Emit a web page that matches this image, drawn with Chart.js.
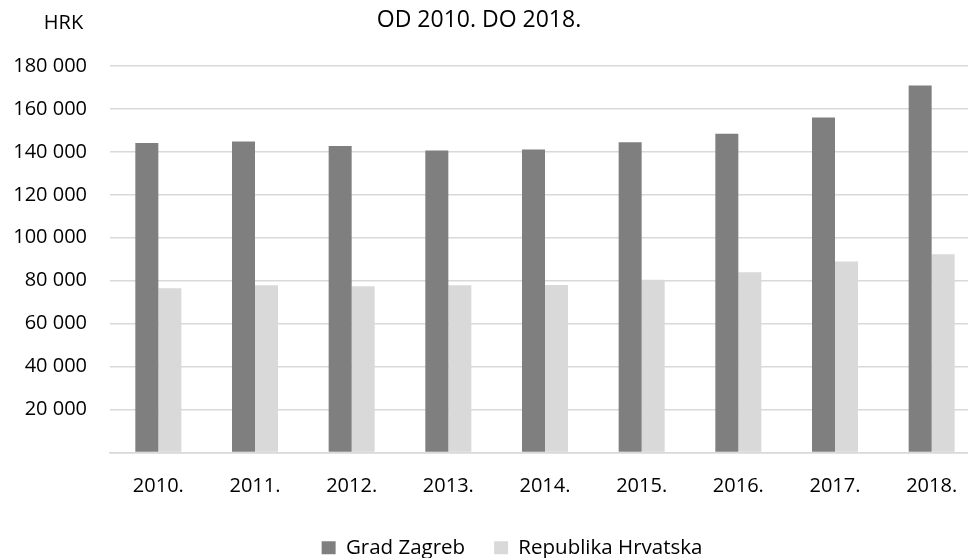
<!DOCTYPE html>
<html>
<head>
<meta charset="utf-8">
<script src="https://cdn.jsdelivr.net/npm/chart.js@4/dist/chart.umd.min.js"></script>
<style>
  html, body { margin: 0; padding: 0; background: #fff; overflow: hidden; }
  #wrap { width: 980px; height: 558px; }
</style>
</head>
<body>
<div id="wrap"><canvas id="chart" width="980" height="558"></canvas></div>
<script>
// podaci (HRK), ocitano sa slike
const godine = ['2010.', '2011.', '2012.', '2013.', '2014.', '2015.', '2016.', '2017.', '2018.'];
const gradZagreb = [144100, 144800, 142700, 140700, 141100, 144500, 148500, 156000, 170900];
const republikaHrvatska = [76500, 77900, 77400, 77900, 78000, 80500, 83900, 88900, 92300];
const naslov = 'OD 2010. DO 2018.';
const jedinica = 'HRK';

const FONT = '"Open Sans", "Noto Sans", sans-serif';

// tisuce odvojene razmakom, nula se ne prikazuje
function formatBroj(v) {
  if (v === 0) return '';
  return String(v).replace(/\B(?=(\d{3})+(?!\d))/g, ' ');
}

// pomak legende i naslova (Excel ih centrira malo drugacije)
const pomakPlugin = {
  id: 'pomak',
  afterLayout(chart) {
    const lg = chart.legend;
    if (lg) { lg.left += 22; lg.right += 22; lg.top -= 12; lg.bottom -= 12; }
    const tb = chart.titleBlock;
    if (tb) { tb.left -= 11; tb.right -= 11; }
  }
};

// oznaka "HRK" gore lijevo
const jedinicaPlugin = {
  id: 'jedinica',
  afterDraw(chart) {
    const ctx = chart.ctx;
    ctx.save();
    ctx.font = '20px ' + FONT;
    ctx.fillStyle = '#000';
    ctx.textAlign = 'center';
    ctx.textBaseline = 'middle';
    ctx.fillText(jedinica, 63.5, 23);
    ctx.restore();
  }
};

const ctx = document.getElementById('chart').getContext('2d');
new Chart(ctx, {
  type: 'bar',
  data: {
    labels: godine,
    datasets: [
      {
        label: 'Grad Zagreb',
        data: gradZagreb,
        backgroundColor: '#7f7f7f',
        borderWidth: 0
      },
      {
        label: 'Republika Hrvatska',
        data: republikaHrvatska,
        backgroundColor: '#d9d9d9',
        borderWidth: 0
      }
    ]
  },
  options: {
    responsive: false,
    animation: false,
    layout: { padding: { left: 0, right: 0, top: 0, bottom: -22 } },
    datasets: {
      bar: { categoryPercentage: 0.476, barPercentage: 1.0 }
    },
    scales: {
      x: {
        grid: { display: false, drawTicks: false },
        border: { display: true, color: '#d9d9d9', width: 1.5 },
        ticks: { color: '#000', font: { family: FONT, size: 20 }, padding: 22 }
      },
      y: {
        min: 0,
        max: 180000,
        afterFit(scale) { scale.width = 110; },
        grid: { color: '#d9d9d9', lineWidth: 1.5, drawTicks: false },
        border: { display: false },
        ticks: {
          stepSize: 20000,
          color: '#000',
          padding: 23,
          font: { family: FONT, size: 20 },
          callback: v => formatBroj(v)
        }
      }
    },
    plugins: {
      title: {
        display: true,
        text: naslov,
        color: '#000',
        font: { family: FONT, size: 23, weight: 'normal' },
        padding: { top: 7, bottom: 31.4 }
      },
      legend: {
        position: 'bottom',
        labels: {
          color: '#000',
          font: { family: FONT, size: 20.5 },
          boxWidth: 14,
          boxHeight: 13,
          padding: 29
        }
      },
      tooltip: { enabled: false }
    }
  },
  plugins: [pomakPlugin, jedinicaPlugin]
});
</script>
</body>
</html>
